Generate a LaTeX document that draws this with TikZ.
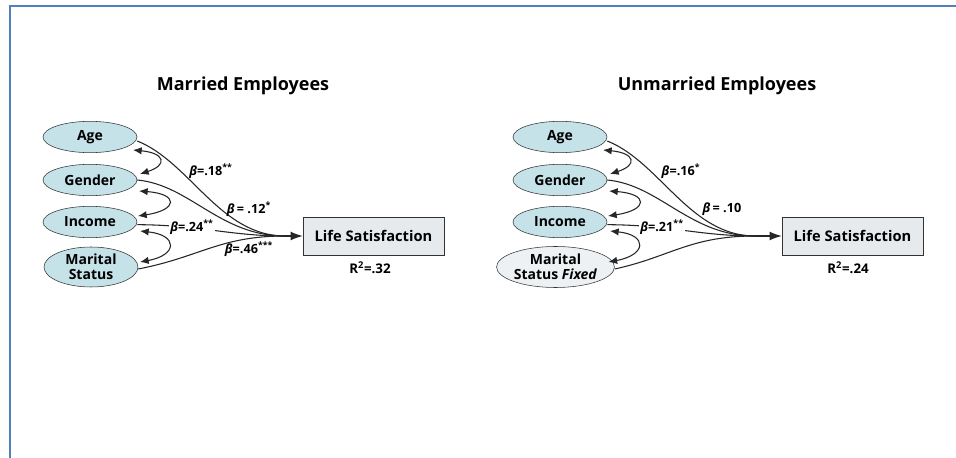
\documentclass[tikz,border=0pt]{standalone}
\usepackage{fontspec}
\setmainfont{Open Sans}
\usetikzlibrary{arrows.meta,shapes.geometric}
\definecolor{framebl}{HTML}{4F81BD}
\definecolor{varbl}{HTML}{C4E2E8}
\definecolor{fixgr}{HTML}{EDF1F3}
\definecolor{boxgr}{HTML}{E6EAED}

\begin{document}
\begin{tikzpicture}[x=.75pt,y=.75pt,
  var/.style={draw=black!80,fill=varbl,ellipse,minimum width=70.5pt,minimum height=23.5pt,
    inner sep=0pt,align=center,font=\bfseries\fontsize{10.5}{11}\selectfont},
  outbox/.style={draw=black!80,fill=boxgr,minimum width=105.75pt,minimum height=28.5pt,
    font=\bfseries\fontsize{11}{12}\selectfont},
  ttl/.style={font=\bfseries\fontsize{13.5}{15}\selectfont},
  beta/.style={font=\bfseries\fontsize{9.5}{11}\selectfont,inner sep=1pt},
  pth/.style={thick,black!85},
  cov/.style={thick,black!85,{Latex[length=6.5pt,width=5.5pt]}-{Latex[length=6.5pt,width=5.5pt]}},
  into/.style={thick,black!85,-{Latex[length=9pt,width=6.5pt]}}]
\useasboundingbox[fill=white] (0,0) rectangle (956,457);
\draw[framebl,line width=1.9pt] (960,451) -- (10,451) -- (10,-5);

% married employees
\node[ttl] (tm) at (243,371) {Married Employees};
\node[var] (agem) at (90,320) {Age};
\node[var] (genm) at (90,277) {Gender};
\node[var] (incm) at (90,235) {Income};
\node[var,minimum height=30pt] (marm) at (91,190) {Marital\\Status};
\node[outbox] (lsm) at (373.5,221) {Life Satisfaction};
\node (r2m) at (370,189) {\bfseries\fontsize{10}{12}\selectfont R\textsuperscript{2}=.32};
\coordinate (jm) at (285,221);
\draw[pth] ([yshift=-3pt]agem.east) .. controls (190,295) and (220,221) .. (jm);
\draw[pth] (genm.east) .. controls (190,272) and (220,221) .. (jm);
\draw[pth] ([yshift=-2pt]incm.east) .. controls (200,232) and (230,221) .. (jm);
\draw[pth] ([yshift=-1.5pt]marm.east) .. controls (200,200) and (220,221) .. (jm);
\draw[into] (jm) -- (lsm.west);
\draw[cov] ([shift={(43,-13)}]agem.center) .. controls +(32,-3) and +(28,9) .. ([shift={(50,6)}]genm.center);
\draw[cov] ([shift={(49,-11)}]genm.center) .. controls +(40,-3) and +(40,6) .. ([shift={(48,6)}]incm.center);
\draw[cov] ([shift={(50,-9)}]incm.center) .. controls +(38,-4) and +(38,7) .. ([shift={(49,5)}]marm.center);
\node[beta] (b18) at (211,286) {\textit{β}=.18\textsuperscript{**}};
\node[beta] (b12) at (249,248) {\textit{β}\,= .12\textsuperscript{*}};
\node[beta,fill=white] (b24) at (192,230) {\textit{β}=.24\textsuperscript{**}};
\node[beta] (b46) at (249,208) {\textit{β}=.46\textsuperscript{***}};

% unmarried employees
\node[ttl] (tu) at (717,371) {Unmarried Employees};
\node[var] (ageu) at (560,320) {Age};
\node[var] (genu) at (560,277) {Gender};
\node[var] (incu) at (560,235) {Income};
\node[var,fill=fixgr,minimum width=78.75pt,minimum height=30.75pt] (maru) at (555.5,190) {Marital\\Status \textit{Fixed}};
\node[outbox] (lsu) at (852.5,221) {Life Satisfaction};
\node (r2u) at (848,189) {\bfseries\fontsize{10}{12}\selectfont R\textsuperscript{2}=.24};
\coordinate (ju) at (755,221);
\draw[pth] ([yshift=-3pt]ageu.east) .. controls (660,295) and (690,221) .. (ju);
\draw[pth] (genu.east) .. controls (660,272) and (690,221) .. (ju);
\draw[pth] ([yshift=-2pt]incu.east) .. controls (670,232) and (700,221) .. (ju);
\draw[pth] ([yshift=-1.5pt]maru.east) .. controls (670,200) and (690,221) .. (ju);
\draw[into] (ju) -- (lsu.west);
\draw[cov] ([shift={(43,-13)}]ageu.center) .. controls +(32,-3) and +(28,9) .. ([shift={(50,6)}]genu.center);
\draw[cov] ([shift={(49,-11)}]genu.center) .. controls +(40,-3) and +(40,6) .. ([shift={(48,6)}]incu.center);
\draw[cov] ([shift={(50,-9)}]incu.center) .. controls +(38,-4) and +(38,7) .. ([shift={(53,5)}]maru.center);
\node[beta] (b16) at (681,286) {\textit{β}=.16\textsuperscript{*}};
\node[beta] (b10) at (722,248) {\textit{β}\,= .10};
\node[beta,fill=white] (b21) at (662,230) {\textit{β}=.21\textsuperscript{**}};
\end{tikzpicture}
\end{document}
